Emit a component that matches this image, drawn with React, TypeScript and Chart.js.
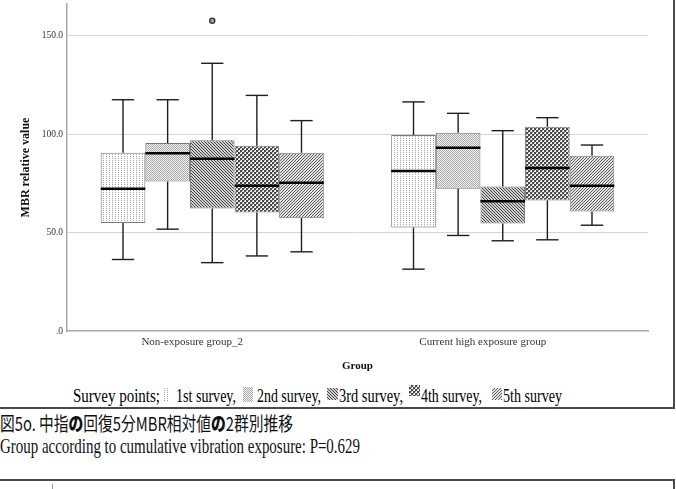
import React, { useEffect, useLayoutEffect, useRef } from 'react';
import { Chart, registerables } from 'chart.js';

Chart.register(...registerables);

// ---------- data ----------
const groups = ['Non-exposure group_2', 'Current high exposure group'];
const surveys = ['1st survey', '2nd survey', '3rd survey', '4th survey', '5th survey'];
// each row = one survey, columns = [Non-exposure group_2, Current high exposure group]
const whiskerLow = [[36.3, 31.4], [51.7, 48.5], [34.7, 45.8], [38.1, 46.3], [40.2, 53.7]];
const q1 = [[54.8, 52.5], [75.9, 72.2], [62.2, 54.6], [60.2, 66.3], [57.3, 60.7]];
const median = [[72.2, 81.2], [90.2, 93.0], [87.5, 65.9], [73.7, 82.7], [75.2, 73.7]];
const q3 = [[90.5, 99.5], [95.4, 100.7], [96.8, 73.4], [94.1, 103.7], [90.5, 89.0]];
const whiskerHigh = [[117.4, 116.3], [117.4, 110.5], [135.9, 101.7], [119.6, 108.3], [106.8, 94.4]];
const outliers: number[][][] = [[[], []], [[], []], [[157.5], []], [[], []], [[], []]];
const yTicks = [0, 50, 100, 150];
const yMax = 166;

const captionJa = ['図5o. 中指', 'の', '回復5分MBR相対値', 'の', '2群別推移'];
const captionEn = 'Group according to cumulative vibration exposure: P=0.629';

// ---------- patterns ----------
function makePattern(ctx: CanvasRenderingContext2D, kind: number): CanvasPattern | string {
  const c = document.createElement('canvas');
  const px = (g: CanvasRenderingContext2D, x: number, y: number) => g.fillRect(x, y, 1, 1);
  let g: CanvasRenderingContext2D;
  if (kind === 0) {
    c.width = 3; c.height = 2; g = c.getContext('2d')!;
    g.fillStyle = '#ffffff'; g.fillRect(0, 0, 3, 2);
    g.fillStyle = '#a4a4a4'; px(g, 1, 0);
  } else if (kind === 1) {
    c.width = 2; c.height = 2; g = c.getContext('2d')!;
    g.fillStyle = '#f2f2f2'; g.fillRect(0, 0, 2, 2);
    g.fillStyle = '#aaaaaa'; px(g, 0, 0); px(g, 1, 1);
  } else if (kind === 2) {
    c.width = 3; c.height = 3; g = c.getContext('2d')!;
    g.fillStyle = '#cfcfcf'; g.fillRect(0, 0, 3, 3);
    g.fillStyle = '#474747'; px(g, 0, 0); px(g, 1, 1); px(g, 2, 2);
  } else if (kind === 3) {
    c.width = 4; c.height = 4; g = c.getContext('2d')!;
    g.fillStyle = '#4a4a4a'; g.fillRect(0, 0, 4, 4);
    g.fillStyle = '#f2f2f2'; g.fillRect(0, 0, 2, 2); g.fillRect(2, 2, 2, 2);
    g.fillStyle = '#9a9a9a'; px(g, 0, 0); px(g, 2, 2);
  } else {
    c.width = 3; c.height = 3; g = c.getContext('2d')!;
    g.fillStyle = '#e2e2e2'; g.fillRect(0, 0, 3, 3);
    g.fillStyle = '#5e5e5e'; px(g, 2, 0); px(g, 1, 1); px(g, 0, 2);
  }
  return ctx.createPattern(c, 'repeat') || '#ccc';
}

// ---------- box-plot whiskers / medians / outliers ----------
const boxPlugin = {
  id: 'boxWhiskers',
  afterDatasetsDraw(chart: any) {
    const ctx: CanvasRenderingContext2D = chart.ctx;
    const ys = chart.scales.y;
    const line = (x1: number, y1: number, x2: number, y2: number) => {
      ctx.beginPath(); ctx.moveTo(x1, y1); ctx.lineTo(x2, y2); ctx.stroke();
    };
    chart.data.datasets.forEach((_: any, di: number) => {
      const meta = chart.getDatasetMeta(di);
      meta.data.forEach((bar: any, gi: number) => {
        const { x, width } = bar.getProps(['x', 'width'], true);
        const half = width / 2;
        const cap = width / 4;
        const pHi = ys.getPixelForValue(whiskerHigh[di][gi]);
        const pLo = ys.getPixelForValue(whiskerLow[di][gi]);
        const pQ1 = ys.getPixelForValue(q1[di][gi]);
        const pQ3 = ys.getPixelForValue(q3[di][gi]);
        const pMed = ys.getPixelForValue(median[di][gi]);
        ctx.save();
        ctx.strokeStyle = '#1e1e1e';
        ctx.lineWidth = 1.4;
        line(x, pQ3, x, pHi);
        line(x - cap, pHi, x + cap, pHi);
        line(x, pQ1, x, pLo);
        line(x - cap, pLo, x + cap, pLo);
        ctx.strokeStyle = '#000';
        ctx.lineWidth = 2.5;
        line(x - half, pMed, x + half, pMed);
        outliers[di][gi].forEach((v) => {
          const py = ys.getPixelForValue(v);
          ctx.beginPath();
          ctx.arc(x, py, 2.6, 0, Math.PI * 2);
          ctx.fillStyle = '#a0a0a0';
          ctx.fill();
          ctx.lineWidth = 1.3;
          ctx.strokeStyle = '#333';
          ctx.stroke();
        });
        ctx.restore();
      });
    });
  },
};

// ---------- helpers ----------
function Squeeze({ width, style, children }: { width: number; style?: React.CSSProperties; children: React.ReactNode }) {
  const ref = useRef<HTMLSpanElement>(null);
  useLayoutEffect(() => {
    const el = ref.current;
    if (!el) return;
    el.style.transform = 'none';
    const w = el.getBoundingClientRect().width;
    if (w > 0) el.style.transform = `scaleX(${width / w})`;
  }, [width]);
  return (
    <span
      ref={ref}
      style={{ position: 'absolute', display: 'inline-block', whiteSpace: 'nowrap', transformOrigin: '0 0', ...style }}
    >
      {children}
    </span>
  );
}

function PatternIcon({ kind, left, top, w, h }: { kind: number; left: number; top: number; w: number; h: number }) {
  const ref = useRef<HTMLCanvasElement>(null);
  useEffect(() => {
    const c = ref.current;
    if (!c) return;
    const ctx = c.getContext('2d')!;
    ctx.clearRect(0, 0, w, h);
    ctx.fillStyle = makePattern(ctx, kind) as any;
    ctx.fillRect(0, 0, w, h);
  }, [kind, w, h]);
  return <canvas ref={ref} width={w} height={h} style={{ position: 'absolute', left, top, width: w, height: h }} />;
}

const serif = '"Liberation Serif", "Times New Roman", serif';

// legend layout (positions only)
const legendText = [
  { x: 176, w: 60 },
  { x: 257, w: 64 },
  { x: 339, w: 64 },
  { x: 421, w: 61 },
  { x: 503, w: 59 },
];
const legendIcons = [
  { x: 163, y: 388, w: 5, h: 14 },
  { x: 243, y: 387, w: 10, h: 15 },
  { x: 327, y: 388, w: 11, h: 12 },
  { x: 409, y: 385, w: 11, h: 11 },
  { x: 492, y: 388, w: 10, h: 12 },
];

export default function App() {
  const canvasRef = useRef<HTMLCanvasElement>(null);

  useEffect(() => {
    const canvas = canvasRef.current;
    if (!canvas) return;
    const ctx = canvas.getContext('2d')!;
    const patterns = surveys.map((_, i) => makePattern(ctx, i));

    const chart = new Chart(canvas, {
      type: 'bar',
      data: {
        labels: groups,
        datasets: surveys.map((s, i) => ({
          label: s,
          data: groups.map((_, g) => [q1[i][g], q3[i][g]]) as any,
          backgroundColor: patterns[i] as any,
          borderColor: '#777777',
          borderWidth: 1,
          borderSkipped: false,
          categoryPercentage: 0.768,
          barPercentage: 1,
        })),
      },
      options: {
        responsive: false,
        animation: false,
        devicePixelRatio: 1,
        layout: { padding: { left: 0, right: 24, top: 4, bottom: 2 } },
        plugins: { legend: { display: false }, tooltip: { enabled: false } },
        events: [],
        scales: {
          x: {
            offset: true,
            grid: { display: false, drawTicks: false },
            border: { display: true, color: '#a8a8a8', width: 1.5 },
            ticks: {
              font: { family: serif, size: 11 },
              color: '#333',
              padding: 5,
              labelOffset: -20,
              maxRotation: 0,
              autoSkip: false,
            },
            title: {
              display: true,
              text: 'Group',
              font: { family: serif, size: 11, weight: 'bold' },
              color: '#111',
              padding: { top: 0, bottom: 1 },
            },
            afterFit: (s: any) => {
              s.height = 43;
              s.paddingLeft = 0;
              s.paddingRight = 0;
            },
          },
          y: {
            min: 0,
            max: yMax,
            afterBuildTicks: (s: any) => {
              s.ticks = yTicks.map((v) => ({ value: v }));
            },
            ticks: {
              callback: (v: any) => (Number(v) === 0 ? '.0' : Number(v).toFixed(1)),
              font: { family: serif, size: 9.5 },
              color: '#333',
              padding: 4,
            },
            grid: {
              drawTicks: false,
              lineWidth: 1,
              color: (c: any) => (c.tick && c.tick.value === 0 ? 'rgba(0,0,0,0)' : '#d6d6d6'),
            },
            border: { display: true, color: '#a8a8a8', width: 1.5 },
            title: {
              display: true,
              text: 'MBR relative value',
              font: { family: serif, size: 12, weight: 'bold' },
              color: '#111',
              padding: { top: 19, bottom: 0 },
            },
            afterFit: (s: any) => {
              s.width = 67;
              s.paddingTop = 0;
              s.paddingBottom = 0;
            },
          },
        },
      },
      plugins: [boxPlugin],
    } as any);

    return () => chart.destroy();
  }, []);

  return (
    <div style={{ position: 'fixed', left: 0, top: 0, width: 676, height: 489, overflow: 'hidden', background: '#fff' }}>
      {/* figure frame */}
      <div
        style={{
          position: 'absolute', left: -3, top: -3, width: 678, height: 412,
          boxSizing: 'border-box', border: '2px solid #4a4a4a',
        }}
      />
      <canvas ref={canvasRef} width={672} height={376} style={{ position: 'absolute', left: 0, top: 0, width: 672, height: 376 }} />

      {/* legend line */}
      <Squeeze width={87} style={{ left: 73, top: 387, font: `18px ${serif}`, lineHeight: '18px', color: '#000' }}>
        Survey points;
      </Squeeze>
      {surveys.map((s, i) => (
        <React.Fragment key={s}>
          <PatternIcon kind={i} left={legendIcons[i].x} top={legendIcons[i].y} w={legendIcons[i].w} h={legendIcons[i].h} />
          <Squeeze
            width={legendText[i].w}
            style={{ left: legendText[i].x, top: 387, font: `18px ${serif}`, lineHeight: '18px', color: '#000' }}
          >
            {i < surveys.length - 1 ? s + ',' : s}
          </Squeeze>
        </React.Fragment>
      ))}

      {/* captions */}
      <Squeeze
        width={293}
        style={{ left: 0, top: 413, font: '19px "Noto Sans CJK JP", sans-serif', lineHeight: '20px', color: '#111' }}
      >
        {captionJa.map((t, i) => (
          <span key={i} style={{ fontWeight: t === 'の' ? 900 : 400 }}>{t}</span>
        ))}
      </Squeeze>
      <Squeeze width={360} style={{ left: 0, top: 435, font: `22px ${serif}`, lineHeight: '22px', color: '#111' }}>
        {captionEn}
      </Squeeze>

      {/* start of next figure */}
      <div
        style={{
          position: 'absolute', left: -3, top: 479, width: 678, height: 20,
          boxSizing: 'border-box', border: '2px solid #4a4a4a',
        }}
      />
      <div style={{ position: 'absolute', left: 52, top: 484, width: 1, height: 6, background: '#999' }} />
    </div>
  );
}
